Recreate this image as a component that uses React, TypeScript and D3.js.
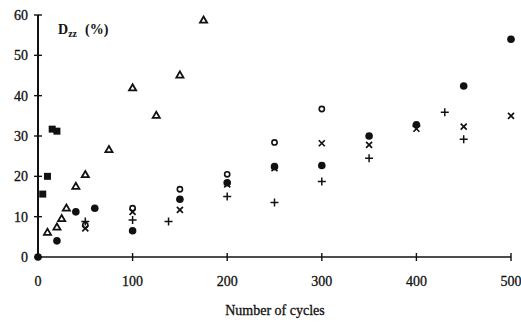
import React from "react";
import * as d3 from "d3";

const xTicks = [0, 100, 200, 300, 400, 500];
const yTicks = [0, 10, 20, 30, 40, 50, 60];

// filled squares
const squareX = [5, 10, 15, 20];
const squareY = [15.6, 20, 31.7, 31.2];
// open triangles
const triX = [10, 20, 25, 30, 40, 50, 75, 100, 125, 150, 175];
const triY = [6, 7.3, 9.4, 12, 17.4, 20.3, 26.5, 41.8, 35, 45, 58.6];
// filled circles
const dotX = [0, 20, 40, 60, 100, 150, 200, 250, 300, 350, 400, 450, 500];
const dotY = [0, 4, 11.2, 12.1, 6.5, 14.3, 18.4, 22.4, 22.7, 30, 32.8, 42.4, 54];
// open circles
const ringX = [50, 100, 150, 200, 250, 300];
const ringY = [7.9, 12.1, 16.8, 20.5, 28.4, 36.7];
// crosses (x)
const crossX = [50, 100, 150, 200, 250, 300, 350, 400, 450, 500];
const crossY = [7.1, 11.2, 11.7, 18, 22, 28.2, 27.8, 31.8, 32.3, 35];
// plus signs
const plusX = [50, 100, 138, 200, 250, 300, 350, 400, 430, 450];
const plusY = [8.8, 9.2, 8.8, 15, 13.5, 18.7, 24.5, 32.5, 35.9, 29.2];

const zip = (a: number[], b: number[]) => a.map((v, i) => [v, b[i]] as [number, number]);

export default function App() {
  const W = 521, H = 322;
  const x = d3.scaleLinear().domain([0, 500]).range([38, 511]);
  const y = d3.scaleLinear().domain([0, 60]).range([257, 15]);
  const font = "'Liberation Serif', 'DejaVu Serif', serif";
  const ink = "#111";
  const triPath = d3.symbol().type(d3.symbolTriangle).size(22)();

  return (
    <svg width={W} height={H} style={{ position: "absolute", left: 0, top: 0, background: "#fff" }}>
      {/* axes */}
      <line x1={x(0)} x2={x(0)} y1={y(60)} y2={y(0)} stroke={ink} strokeWidth={2} />
      <line x1={x(0)} x2={x(500)} y1={y(0)} y2={y(0)} stroke={ink} strokeWidth={1.6} />
      {yTicks.map((t) => (
        <g key={"y" + t}>
          <line x1={x(0) - 4} x2={x(0) + 4} y1={y(t)} y2={y(t)} stroke={ink} strokeWidth={1.4} />
          <text x={28} y={y(t)} dy="0.35em" textAnchor="end" fontFamily={font} fontSize={14} fill={ink} stroke={ink} strokeWidth={0.3}>
            {t}
          </text>
        </g>
      ))}
      {xTicks.map((t) => (
        <g key={"x" + t}>
          {t > 0 && <line x1={x(t)} x2={x(t)} y1={y(0) - 4} y2={y(0) + 4} stroke={ink} strokeWidth={1.4} />}
          <text x={x(t)} y={286} textAnchor="middle" fontFamily={font} fontSize={14} fill={ink} stroke={ink} strokeWidth={0.3}>
            {t}
          </text>
        </g>
      ))}
      <text x={275} y={315} textAnchor="middle" fontFamily={font} fontSize={14} fill={ink} stroke={ink} strokeWidth={0.3}>
        Number of cycles
      </text>
      <text x={58} y={34} fontFamily={font} fontSize={14} fontWeight="bold" fill={ink}>
        D
        <tspan fontSize={10} dy={3}>zz</tspan>
        <tspan dy={-3} dx={8} fontWeight="bold">(%)</tspan>
      </text>

      {/* filled squares */}
      {zip(squareX, squareY).map(([a, b], i) => (
        <rect key={"s" + i} x={x(a) - 3.5} y={y(b) - 3.5} width={7} height={7} fill={ink} />
      ))}
      {/* triangles */}
      {zip(triX, triY).map(([a, b], i) => (
        <path key={"t" + i} d={triPath!} transform={`translate(${x(a)},${y(b)})`} fill="none" stroke={ink} strokeWidth={1.8} />
      ))}
      {/* open circles */}
      {zip(ringX, ringY).map(([a, b], i) => (
        <circle key={"r" + i} cx={x(a)} cy={y(b)} r={2.6} fill="none" stroke={ink} strokeWidth={1.6} />
      ))}
      {/* crosses */}
      {zip(crossX, crossY).map(([a, b], i) => (
        <path key={"c" + i} d="M-3,-3L3,3M-3,3L3,-3" transform={`translate(${x(a)},${y(b)})`} stroke={ink} strokeWidth={1.7} />
      ))}
      {/* plus */}
      {zip(plusX, plusY).map(([a, b], i) => (
        <path key={"p" + i} d="M-4,0L4,0M0,-4L0,4" transform={`translate(${x(a)},${y(b)})`} stroke={ink} strokeWidth={1.5} />
      ))}
      {/* filled circles */}
      {zip(dotX, dotY).map(([a, b], i) => (
        <circle key={"d" + i} cx={x(a)} cy={y(b)} r={3.8} fill={ink} />
      ))}
    </svg>
  );
}
